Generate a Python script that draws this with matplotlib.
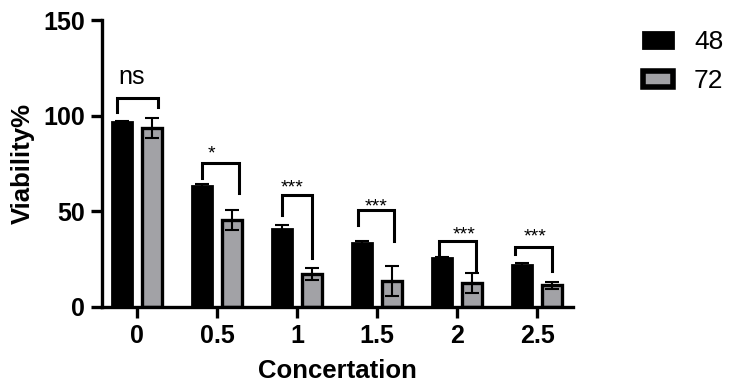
import matplotlib.pyplot as plt
import numpy as np
from matplotlib.patches import Patch

plt.rcParams['font.family'] = ['Liberation Sans', 'DejaVu Sans']

concentrations = ['0', '0.5', '1', '1.5', '2', '2.5']
viab_48 = [96.5, 63.2, 40.6, 33.3, 25.6, 21.8]
err_48 = [0.6, 1.3, 2.4, 1.4, 0.7, 1.0]
viab_72 = [93.6, 45.5, 17.1, 13.8, 12.4, 11.3]
err_72 = [5.2, 5.2, 3.1, 7.8, 5.2, 2.0]

# significance brackets: label, bar height, left leg end, right leg end
sig_labels = ['ns', '*', '***', '***', '***', '***']
sig_top = [109.4, 75.4, 58.5, 50.5, 34.7, 31.5]
sig_left = [102.0, 67.3, 48.0, 42.9, 27.2, 27.7]
sig_right = [104.7, 59.4, 25.8, 34.3, 19.0, 19.0]
sig_x0 = [-0.254, -0.191, -0.191, -0.234, -0.225, -0.275]
sig_x1 = [0.2625, 0.275, 0.191, 0.216, 0.2375, 0.1875]
sig_text_dx = [-0.07, -0.07, -0.06, -0.01, 0.08, -0.03]
sig_text_y = [120, 80, 62.4, 52.4, 37.6, 36.8]

grey = '#a2a2a6'
fig = plt.figure(figsize=(7.34, 3.85), dpi=100)
ax = fig.add_axes([0.139, 0.2026, 0.642, 0.7454])

x = np.arange(len(concentrations))
off = 0.1875
w = 0.25
ax.bar(x - off, viab_48, w, color='black', edgecolor='black', linewidth=2, zorder=2)
ax.bar(x + off, viab_72, w, color=grey, edgecolor='black', linewidth=2.4, zorder=2)
ax.errorbar(x - off, viab_48, yerr=err_48, fmt='none', ecolor='black',
            elinewidth=1.5, capsize=5, capthick=1.5, zorder=3)
ax.errorbar(x + off, viab_72, yerr=err_72, fmt='none', ecolor='black',
            elinewidth=1.5, capsize=5, capthick=1.5, zorder=3)

for i in range(len(x)):
    x0 = x[i] + sig_x0[i]
    x1 = x[i] + sig_x1[i]
    ax.plot([x0, x0, x1, x1], [sig_left[i], sig_top[i], sig_top[i], sig_right[i]],
            color='black', lw=2.2, solid_joinstyle='miter', zorder=4)
    fs = 18 if sig_labels[i] == 'ns' else 14
    ax.text(x[i] + sig_text_dx[i], sig_text_y[i], sig_labels[i], ha='center',
            va='center', fontsize=fs)

ax.set_xlim(-0.4375, 5.45)
ax.set_ylim(0, 150)
ax.set_xticks(x)
ax.set_xticklabels(concentrations)
ax.set_yticks([0, 50, 100, 150])
for s in ['top', 'right']:
    ax.spines[s].set_visible(False)
for s in ['left', 'bottom']:
    ax.spines[s].set_linewidth(2.4)
ax.tick_params(axis='both', width=2.4, length=8, labelsize=18, pad=4)
for lab in ax.get_xticklabels() + ax.get_yticklabels():
    lab.set_fontweight('bold')
ax.set_xlabel('Concertation', fontsize=18.5, fontweight='bold', labelpad=8)
ax.set_ylabel('Viability%', fontsize=18.5, fontweight='bold', labelpad=6)

handles = [Patch(facecolor='black', edgecolor='black', linewidth=2),
           Patch(facecolor=grey, edgecolor='black', linewidth=4)]
fig.legend(handles, ['48', '72'], loc='upper left', bbox_to_anchor=(0.843, 0.984),
           frameon=False, fontsize=19, handlelength=1.15, handleheight=0.55,
           labelspacing=0.57, handletextpad=0.8)

fig.savefig('out.png', dpi=100)
